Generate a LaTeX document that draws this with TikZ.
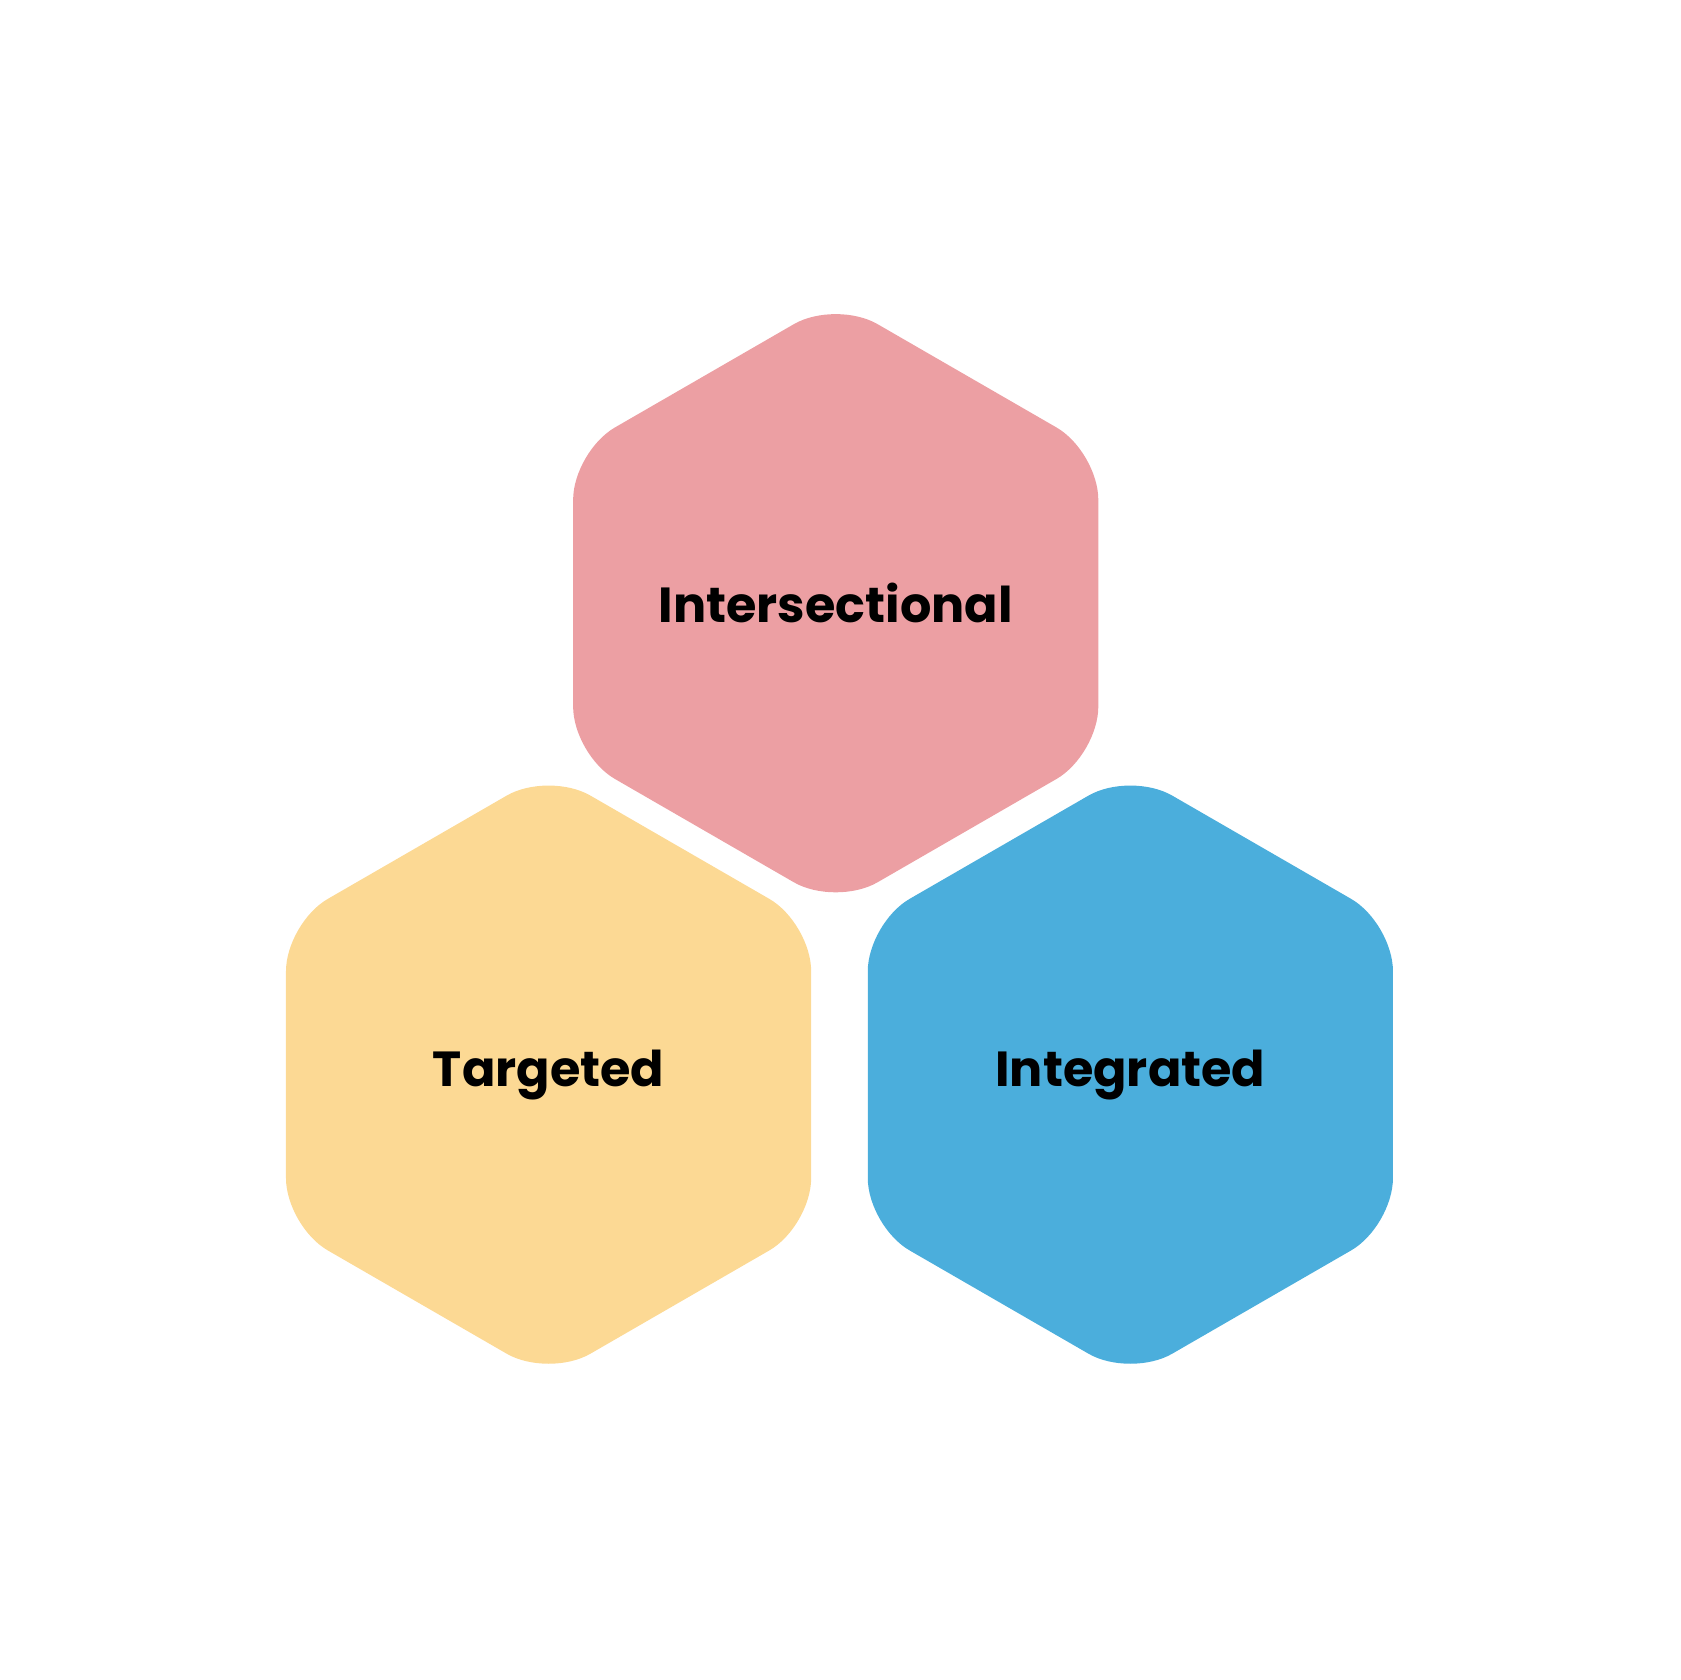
\documentclass[tikz,border=0pt]{standalone}
\usepackage{fontspec}
\setmainfont{Poppins}
\usetikzlibrary{calc}
\definecolor{hpink}{HTML}{EC9FA3}
\definecolor{hyellow}{HTML}{FCD994}
\definecolor{hblue}{HTML}{4BAEDC}
\tikzset{hexlabel/.style={font=\fontsize{46}{50}\selectfont\bfseries, text=black},
hexfill/.style={rounded corners=45pt}}
\begin{document}
\begin{tikzpicture}[x=1pt,y=1pt]
\useasboundingbox (0,0) rectangle (1568,-1568);
\foreach \cx/\cy/\col in {780/-563/hpink, 512/-1003/hyellow, 1055/-1003/hblue}{
  \fill[\col,hexfill] ($(\cx,\cy)+(90:283)$) -- ($(\cx,\cy)+(150:283)$) -- ($(\cx,\cy)+(210:283)$) -- ($(\cx,\cy)+(270:283)$) -- ($(\cx,\cy)+(330:283)$) -- ($(\cx,\cy)+(30:283)$) -- cycle;
}
\node[hexlabel] (a) at (780,-563) {Intersectional};
\node[hexlabel] (b) at (512,-1003) {Targeted};
\node[hexlabel] (c) at (1055,-1003) {Integrated};
\end{tikzpicture}
\end{document}
